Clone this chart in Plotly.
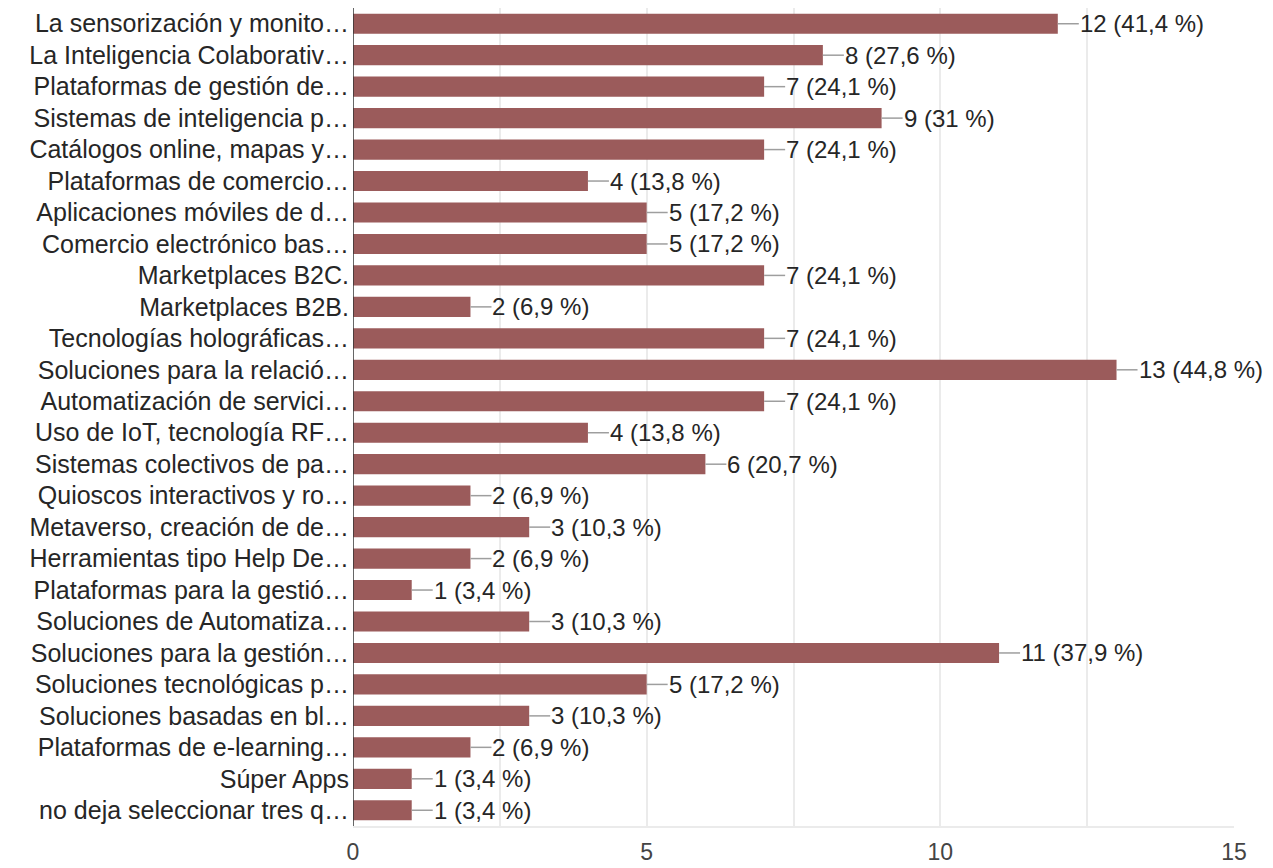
import plotly.graph_objects as go

categories = [
    "La sensorización y monito…",
    "La Inteligencia Colaborativ…",
    "Plataformas de gestión de…",
    "Sistemas de inteligencia p…",
    "Catálogos online, mapas y…",
    "Plataformas de comercio…",
    "Aplicaciones móviles de d…",
    "Comercio electrónico bas…",
    "Marketplaces B2C.",
    "Marketplaces B2B.",
    "Tecnologías holográficas…",
    "Soluciones para la relació…",
    "Automatización de servici…",
    "Uso de IoT, tecnología RF…",
    "Sistemas colectivos de pa…",
    "Quioscos interactivos y ro…",
    "Metaverso, creación de de…",
    "Herramientas tipo Help De…",
    "Plataformas para la gestió…",
    "Soluciones de Automatiza…",
    "Soluciones para la gestión…",
    "Soluciones tecnológicas p…",
    "Soluciones basadas en bl…",
    "Plataformas de e-learning…",
    "Súper Apps",
    "no deja seleccionar tres q…",
]
values = [12, 8, 7, 9, 7, 4, 5, 5, 7, 2, 7, 13, 7, 4, 6, 2, 3, 2, 1, 3, 11, 5, 3, 2, 1, 1]
percents = ["41,4", "27,6", "24,1", "31", "24,1", "13,8", "17,2", "17,2", "24,1", "6,9",
            "24,1", "44,8", "24,1", "13,8", "20,7", "6,9", "10,3", "6,9", "3,4", "10,3",
            "37,9", "17,2", "10,3", "6,9", "3,4", "3,4"]
x_ticks = [0, 5, 10, 15]

FONT = "Liberation Sans, Arial, sans-serif"
FS = 25

fig = go.Figure()
fig.add_trace(go.Bar(
    x=values, y=list(range(len(categories))), orientation="h",
    marker=dict(color="#9b5b5b", line=dict(width=0)),
    width=0.64, hoverinfo="x",
))

for i, (v, p) in enumerate(zip(values, percents)):
    fig.add_shape(type="line", xref="x", yref="y", xsizemode="pixel", xanchor=v,
                  x0=0, x1=21, y0=i, y1=i, line=dict(color="#9e9e9e", width=1.5))
    fig.add_annotation(x=v, y=i, xref="x", yref="y", text=f"{v} ({p} %)",
                       showarrow=False, xanchor="left", yanchor="middle", xshift=20,
                       font=dict(family=FONT, size=24, color="#262626"))

# page body has an 8px margin, so the figure is sized and offset to compensate
fig.update_layout(
    width=1265, height=860,
    margin=dict(l=345, r=39, t=0, b=42),
    paper_bgcolor="white", plot_bgcolor="white",
    showlegend=False,
    xaxis=dict(range=[0, 15], tickvals=x_ticks, ticktext=[str(t) for t in x_ticks],
               automargin=False,
               showgrid=True, gridcolor="#ebebeb", gridwidth=1.5,
               minor=dict(dtick=2.5, showgrid=True, gridcolor="#ebebeb", gridwidth=1.5),
               zeroline=False, showline=True, linecolor="#ebebeb", linewidth=1.5,
               mirror=True, ticks="", ticklabelstandoff=5,
               tickfont=dict(family=FONT, size=23, color="#444444")),
    yaxis=dict(tickvals=list(range(len(categories))), ticktext=categories,
               automargin=False,
               range=[len(categories) - 0.5, -0.5], showgrid=False, zeroline=False,
               showline=False, ticks="", ticklabelstandoff=3,
               tickfont=dict(family=FONT, size=FS, color="#262626")),
)
fig.add_shape(type="line", xref="x", yref="paper", x0=0, x1=0, y0=0, y1=1,
              line=dict(color="#333333", width=1.5))

fig.write_html("out.html")
